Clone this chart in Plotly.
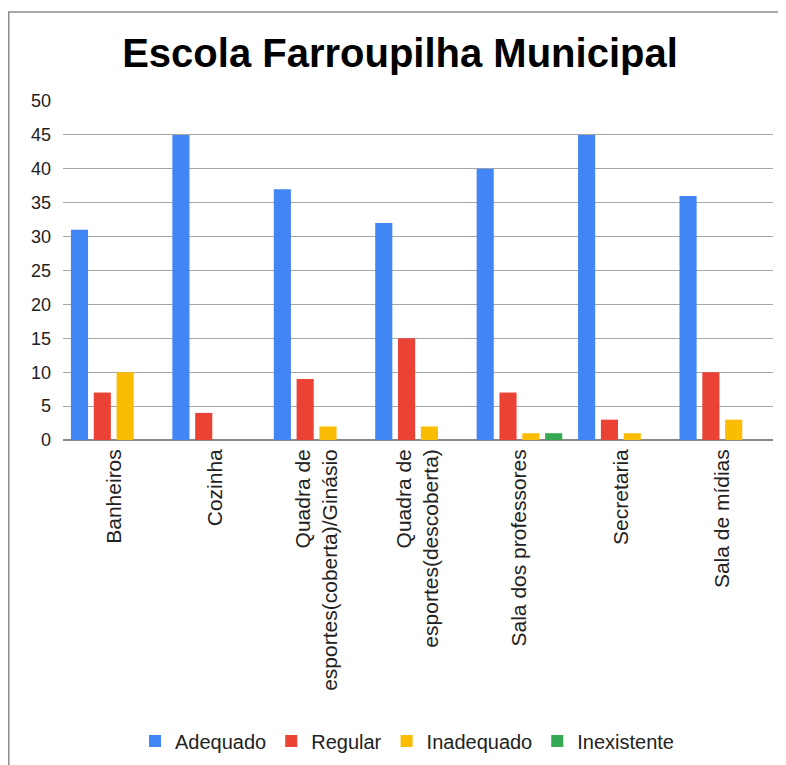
import plotly.graph_objects as go

categorias = ["Banheiros", "Cozinha", "Quadra de<br>esportes(coberta)/Ginásio",
              "Quadra de<br>esportes(descoberta)", "Sala dos professores",
              "Secretaria", "Sala de mídias"]
adequado = [31, 45, 37, 32, 40, 45, 36]
regular = [7, 4, 9, 15, 7, 3, 10]
inadequado = [10, 0, 2, 2, 1, 1, 3]
inexistente = [0, 0, 0, 0, 1, 0, 0]

series = [("Adequado", adequado, "#4285F4"),
          ("Regular", regular, "#EA4335"),
          ("Inadequado", inadequado, "#FBBC04"),
          ("Inexistente", inexistente, "#34A853")]

# a pagina tem margem de 8px no body, entao a figura fica um pouco menor
W, H = 778, 757
L, R, T, B = 55, 13, 93, 325
pw, ph = W - L - R, H - T - B

fig = go.Figure()
for nome, vals, cor in series:
    fig.add_bar(x=categorias, y=vals, name=nome, marker_color=cor, marker_line_width=0)

fig.update_layout(
    width=W, height=H,
    margin=dict(l=L, r=R, t=T, b=B),
    paper_bgcolor="white", plot_bgcolor="white",
    font=dict(family="Arial, Liberation Sans", color="#222"),
    title=dict(text="<b>Escola Farroupilha Municipal</b>", x=392 / W, xanchor="center",
               y=1 - 45 / H, yanchor="middle", font=dict(size=40, color="black")),
    barmode="group", bargap=0.1, bargroupgap=0.25,
    legend=dict(orientation="h", x=399 / W, xanchor="center", xref="container",
                y=1 - 733 / H, yanchor="middle", yref="container",
                font=dict(size=20, color="#222"), itemwidth=30),
    showlegend=True,
)
fig.update_yaxes(range=[0, 50], dtick=5, showgrid=True, gridcolor="#a6a6a6", gridwidth=1,
                 tickfont=dict(size=18, color="#222"), zeroline=True, zerolinecolor="#888",
                 zerolinewidth=2, ticks="", ticklabelstandoff=11)
fig.update_xaxes(tickangle=-90, tickfont=dict(size=21, color="#222"), showline=False,
                 ticks="", ticklabelstandoff=4)

# moldura cinza em volta do grafico
fig.add_shape(type="rect", xref="paper", yref="paper",
              x0=(0.75 - L) / pw, x1=(W + 10 - L) / pw,
              y0=(ph + T - H - 10) / ph, y1=(ph + T - 4) / ph,
              line=dict(color="#8c8c8c", width=1.5), fillcolor="rgba(0,0,0,0)", layer="below")

fig.write_html("out.html")
